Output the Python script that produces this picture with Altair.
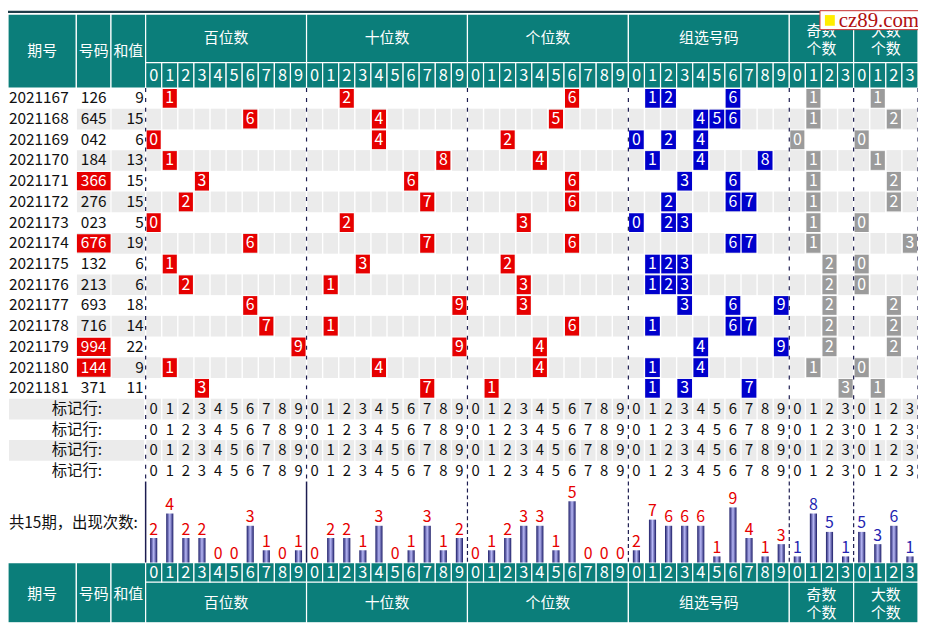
import altair as alt
import pandas as pd

# ---------------- data ----------------
periods = [2021167, 2021168, 2021169, 2021170, 2021171, 2021172, 2021173, 2021174,
           2021175, 2021176, 2021177, 2021178, 2021179, 2021180, 2021181]
numbers = ["126", "645", "042", "184", "366", "276", "023", "676",
           "132", "213", "693", "716", "994", "144", "371"]
sums = [9, 15, 6, 13, 15, 15, 5, 19, 6, 6, 18, 14, 22, 9, 11]
odd_counts = [1, 1, 0, 1, 1, 1, 1, 1, 2, 2, 2, 2, 2, 1, 3]
big_counts = [1, 2, 0, 1, 2, 2, 0, 3, 0, 0, 2, 2, 2, 0, 1]
group_titles = ["百位数", "十位数", "个位数", "组选号码", "奇数个数", "大数个数"]
freq_hundreds = [2, 4, 2, 2, 0, 0, 3, 1, 0, 1]
freq_tens = [0, 2, 2, 1, 3, 0, 1, 3, 1, 2]
freq_units = [0, 1, 2, 3, 3, 1, 5, 0, 0, 0]
freq_combo = [2, 7, 6, 6, 6, 1, 9, 4, 1, 3]
freq_odd = [1, 8, 5, 1]
freq_big = [5, 3, 6, 1]
mark_row_label = "标记行:"
summary_label = "共15期，出现次数:"

# ---------------- layout ----------------
W, H = 918, 618
xs = alt.Scale(domain=[3, 922], range=[0, W], nice=False, zero=False)
ys = alt.Scale(domain=[0.5, 630.5], range=[0, H], nice=False, zero=False)

TEAL = "#0b7e7a"
GRAY = "#ebebeb"
RED = "#e60000"
BLUE = "#0000cc"
BOXGRAY = "#9b9b9b"
LINE = "#1c1c50"
FONT = "Noto Sans CJK SC"
TXT = 15.5

D0, DW = 142.0, 16.25
R0, RH = 80.0, 21.3
FIX = [(3, 72), (72, 107), (107, 142)]
GROUPS = [(0, 10), (10, 10), (20, 10), (30, 10), (40, 4), (44, 4)]
NCOL = 48
BASE = 568.0


def cl(k):
    return D0 + k * DW


def cc(k):
    return D0 + (k + 0.5) * DW


def rt(r):
    return R0 + r * RH


def rc(r):
    return R0 + (r + 0.5) * RH


def col_digit(k):
    return k % 10 if k < 40 else (k - 40) % 4


def X():
    return alt.X("x:Q", scale=xs, axis=None)


def Y():
    return alt.Y("y:Q", scale=ys, axis=None)


def rect_layer(rows, **kw):
    df = pd.DataFrame(rows)
    enc = dict(x=X(), x2="x2:Q", y=Y(), y2="y2:Q")
    if "fill" in df.columns:
        enc["color"] = alt.Color("fill:N", scale=None)
    return alt.Chart(df).mark_rect(**kw).encode(**enc)


def text_layer(rows, align, baseline="middle", font=FONT, **kw):
    df = pd.DataFrame(rows)
    return alt.Chart(df).mark_text(align=align, baseline=baseline, font=font, **kw).encode(
        x=X(), y=Y(), text="text:N",
        color=alt.Color("color:N", scale=None),
        size=alt.Size("size:Q", scale=None))


def rule_layer(rows, **kw):
    df = pd.DataFrame(rows)
    return alt.Chart(df).mark_rule(**kw).encode(x=X(), y=Y(), y2="y2:Q")


layers = []

# ---------------- header cells ----------------
hdr = []
for (a, b) in FIX:
    hdr.append(dict(x=a, x2=b, y=4, y2=80))
    hdr.append(dict(x=a, x2=b, y=568, y2=630))
for (s, n) in GROUPS:
    hdr.append(dict(x=cl(s), x2=cl(s + n), y=4, y2=54))
    hdr.append(dict(x=cl(s), x2=cl(s + n), y=588, y2=630))
for k in range(NCOL):
    hdr.append(dict(x=cl(k), x2=cl(k + 1), y=54, y2=80))
    hdr.append(dict(x=cl(k), x2=cl(k + 1), y=568, y2=588))
layers.append(rect_layer(hdr, fill=TEAL, stroke="white", strokeWidth=1.2))
layers.append(rect_layer([dict(x=0, x2=930, y=0.5, y2=3)], fill="#1e3c48"))

# ---------------- row backgrounds ----------------
bg = []
for r in range(len(periods)):
    if r % 2 == 1:
        for (a, b) in FIX[1:]:
            bg.append(dict(x=a + 0.6, x2=b - 0.6, y=rt(r), y2=rt(r + 1)))
        for k in range(NCOL):
            bg.append(dict(x=cl(k) + 0.7, x2=cl(k + 1) - 0.7, y=rt(r), y2=rt(r + 1)))
for m in range(4):
    r = len(periods) + m
    if m % 2 == 0:
        bg.append(dict(x=4, x2=140.5, y=rt(r), y2=rt(r + 1)))
        for k in range(NCOL):
            bg.append(dict(x=cl(k) + 0.7, x2=cl(k + 1) - 0.7, y=rt(r), y2=rt(r + 1)))
layers.append(rect_layer(bg, fill=GRAY))

# ---------------- highlight boxes ----------------
boxes = []
box_txt = []
left_txt = []
center_txt = []
right_txt = []
for r, (p, num, s) in enumerate(zip(periods, numbers, sums)):
    y0, y1, yc = rt(r) + 1, rt(r + 1) - 1, rc(r)
    left_txt.append(dict(x=4, y=yc, text=str(p), color="#111111", size=TXT))
    right_txt.append(dict(x=140, y=yc, text=str(s), color="#111111", size=TXT))
    digits = [int(ch) for ch in num]
    repeated = len(set(digits)) < 3
    if repeated:
        boxes.append(dict(x=72.6, x2=106.6, y=y0 + 0.3, y2=y1 - 0.3, fill=RED))
    center_txt.append(dict(x=89.5, y=yc, text=num, color="white" if repeated else "#111111", size=TXT))
    for i, d in enumerate(digits):
        k = i * 10 + d
        boxes.append(dict(x=cl(k) + 1, x2=cl(k + 1) - 1, y=y0, y2=y1, fill=RED))
        box_txt.append(dict(x=cc(k), y=yc, text=str(d), color="white", size=16))
    for d in sorted(set(digits)):
        k = 30 + d
        boxes.append(dict(x=cl(k) + 0.7, x2=cl(k + 1) - 0.7, y=y0, y2=y1, fill=BLUE))
        box_txt.append(dict(x=cc(k), y=yc, text=str(d), color="white", size=16))
    for base, v in ((40, odd_counts[r]), (44, big_counts[r])):
        k = base + v
        boxes.append(dict(x=cl(k) + 1, x2=cl(k + 1) - 1, y=y0, y2=y1, fill=BOXGRAY))
        box_txt.append(dict(x=cc(k), y=yc, text=str(v), color="white", size=16))
layers.append(rect_layer(boxes))

# ---------------- mark rows ----------------
for m in range(4):
    r = len(periods) + m
    right_txt.append(dict(x=98, y=rc(r), text=mark_row_label, color="#111111", size=TXT))
    for k in range(NCOL):
        center_txt.append(dict(x=cc(k), y=rc(r), text=str(col_digit(k)), color="#111111", size=15))

left_txt.append(dict(x=4, y=527, text=summary_label, color="#111111", size=TXT))

# ---------------- header texts ----------------
hdr_txt = []
for (a, b), t in zip(FIX, ["期号", "号码", "和值"]):
    hdr_txt.append(dict(x=(a + b) / 2, y=42, text=t, color="white", size=15))
    hdr_txt.append(dict(x=(a + b) / 2, y=600, text=t, color="white", size=15))
for (s, n), t in zip(GROUPS, group_titles):
    xc = (cl(s) + cl(s + n)) / 2
    if n == 10:
        hdr_txt.append(dict(x=xc, y=29, text=t, color="white", size=15))
        hdr_txt.append(dict(x=xc, y=610, text=t, color="white", size=15))
    else:
        hdr_txt.append(dict(x=xc, y=21, text=t[:2], color="white", size=15))
        hdr_txt.append(dict(x=xc, y=39.5, text=t[2:], color="white", size=15))
        hdr_txt.append(dict(x=xc, y=601, text=t[:2], color="white", size=15))
        hdr_txt.append(dict(x=xc, y=620, text=t[2:], color="white", size=15))
for k in range(NCOL):
    hdr_txt.append(dict(x=cc(k), y=67.5, text=str(col_digit(k)), color="white", size=16.5))
    hdr_txt.append(dict(x=cc(k), y=578.5, text=str(col_digit(k)), color="white", size=16.5))

# ---------------- separators ----------------
seps = [cl(s) for (s, n) in GROUPS] + [cl(NCOL)]
dash_rows = [dict(x=x, y=R0, y2=rt(len(periods) + 4)) for x in seps]
layers.append(rule_layer(dash_rows, color=LINE, strokeWidth=1.2, strokeDash=[4, 6]))
bar_top = rt(len(periods) + 4)
layers.append(rule_layer([dict(x=x, y=bar_top, y2=BASE) for x in seps[:2]],
                         color=LINE, strokeWidth=1.5))
layers.append(rule_layer([dict(x=x, y=bar_top, y2=BASE) for x in seps[2:6]],
                         color=LINE, strokeWidth=1.2, strokeDash=[4, 3]))

# ---------------- frequency bars ----------------
freqs = [(0, freq_hundreds, 12.6, RED), (10, freq_tens, 12.6, RED), (20, freq_units, 12.6, RED),
         (30, freq_combo, 6.3, RED), (40, freq_odd, 6.3, "#2424b0"), (44, freq_big, 6.3, "#2424b0")]
bars = []
bar_lbl = []
for start, vals, unit, col in freqs:
    for i, v in enumerate(vals):
        k = start + i
        top = BASE - v * unit
        if v > 0:
            bars.append(dict(x=cc(k) - 3.6, x2=cc(k) + 3.6, y=top, y2=BASE))
        bar_lbl.append(dict(x=cc(k), y=top - 3.5, text=str(v), color=col, size=16))
grad = {"gradient": "linear", "x1": 0, "x2": 1, "y1": 0, "y2": 0,
        "stops": [{"offset": 0, "color": "#1a1a66"}, {"offset": 0.5, "color": "#b8b8f6"},
                  {"offset": 1, "color": "#1a1a66"}]}
layers.append(rect_layer(bars, fill=grad))

# ---------------- texts ----------------
layers.append(text_layer(box_txt, "center"))
layers.append(text_layer(left_txt, "left"))
layers.append(text_layer(center_txt, "center"))
layers.append(text_layer(right_txt, "right"))
layers.append(text_layer(hdr_txt, "center"))
layers.append(text_layer(bar_lbl, "center", baseline="alphabetic"))

# ---------------- watermark ----------------
layers.append(rect_layer([dict(x=823, x2=930, y=0.5, y2=20)], fill="white", stroke="#cc3333", strokeWidth=1))
layers.append(rect_layer([dict(x=828, x2=838, y=5, y2=16)], fill="#ffee00"))
layers.append(text_layer([dict(x=842, y=17, text="cz89.com", color="#b01010", size=21)],
                         "left", baseline="alphabetic", font="Liberation Serif"))

chart = alt.layer(*layers).properties(
    width=W, height=H, padding=0, autosize="none"
).configure_view(stroke=None)

chart.save("out.html", embed_options={"renderer": "svg", "actions": False})
